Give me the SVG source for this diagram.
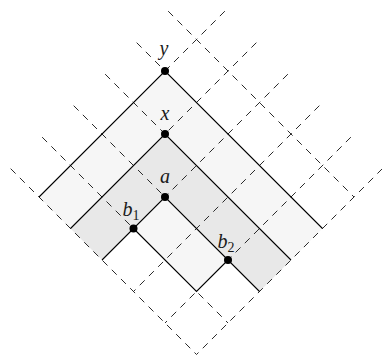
<svg xmlns="http://www.w3.org/2000/svg" width="382" height="358" viewBox="0 0 382 358">
<style>
.light{fill:#f6f6f6;stroke:none}
.gray{fill:#e8e8e8;stroke:none}
.dash{stroke:#2a2a2a;stroke-width:1;stroke-dasharray:7 6;fill:none}
.solid{stroke:#000;stroke-width:1.1;fill:none;stroke-linejoin:miter}
.dot{fill:#000}
.lbl{font-family:"Liberation Serif","DejaVu Serif",serif;font-style:italic;font-size:20px;fill:#1a1a1a;text-anchor:middle}
.sub{font-size:14px;font-style:normal}
</style>
<rect width="382" height="358" fill="#fff"/>
<g id="regions">
<polygon class="light" points="165,71 322.5,228.5 291,260 165,134 70.5,228.5 39,197"/>
<polygon class="gray" points="165,134 291,260 259.5,291.5 165,197 102,260 70.5,228.5"/>
<polygon class="light" points="165,197 228,260 196.5,291.5 133.5,228.5"/>
</g>
<g id="grid">
<line class="dash" x1="224.85" y1="11.15" x2="39" y2="197"/>
<line class="dash" x1="256.35" y1="42.65" x2="70.5" y2="228.5"/>
<line class="dash" x1="287.85" y1="74.15" x2="102" y2="260"/>
<line class="dash" x1="319.35" y1="105.65" x2="133.5" y2="291.5"/>
<line class="dash" x1="350.85" y1="137.15" x2="165" y2="323"/>
<line class="dash" x1="382.35" y1="168.65" x2="196.5" y2="354.5"/>
<line class="dash" x1="168.15" y1="11.15" x2="354" y2="197"/>
<line class="dash" x1="136.65" y1="42.65" x2="322.5" y2="228.5"/>
<line class="dash" x1="105.15" y1="74.15" x2="291" y2="260"/>
<line class="dash" x1="73.65" y1="105.65" x2="259.5" y2="291.5"/>
<line class="dash" x1="42.15" y1="137.15" x2="228" y2="323"/>
<line class="dash" x1="10.65" y1="168.65" x2="196.5" y2="354.5"/>
</g>
<g id="connectors">
<polyline class="solid" points="39,197 165,71 322.5,228.5"/>
<polyline class="solid" points="70.5,228.5 165,134 291,260"/>
<polyline class="solid" points="102,260 165,197 259.5,291.5"/>
<polyline class="solid" points="133.5,228.5 196.5,291.5 228,260"/>
</g>
<g id="node-y">
<circle class="dot" cx="165" cy="71" r="4"/>
<text class="lbl" x="164" y="55">y</text>
</g>
<g id="node-x">
<circle class="dot" cx="165" cy="134" r="4"/>
<text class="lbl" x="165" y="120">x</text>
</g>
<g id="node-a">
<circle class="dot" cx="165" cy="197" r="4"/>
<text class="lbl" x="165" y="183">a</text>
</g>
<g id="node-b1">
<circle class="dot" cx="133.5" cy="228.5" r="4"/>
<text class="lbl" x="131" y="216">b<tspan class="sub" dy="4">1</tspan></text>
</g>
<g id="node-b2">
<circle class="dot" cx="228" cy="260" r="4"/>
<text class="lbl" x="226" y="248">b<tspan class="sub" dy="4">2</tspan></text>
</g>
</svg>
